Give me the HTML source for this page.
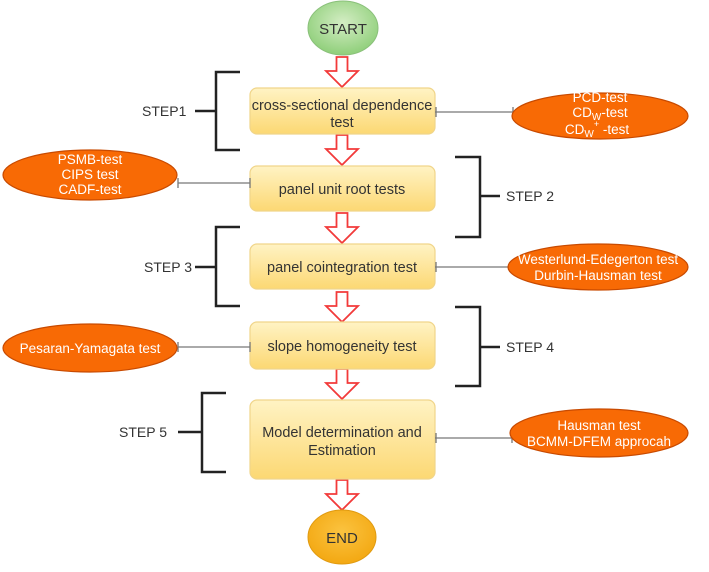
<!DOCTYPE html>
<html><head><meta charset="utf-8"><style>
html,body{margin:0;padding:0;background:#fff}
svg text{font-family:"Liberation Sans",sans-serif}
</style></head><body>
<svg width="709" height="567" viewBox="0 0 709 567" xmlns="http://www.w3.org/2000/svg">
<defs>
<radialGradient id="g" cx="50%" cy="40%" r="60%"><stop offset="0" stop-color="#d4edc4"/><stop offset="1" stop-color="#8fcf7a"/></radialGradient>
<linearGradient id="y" x1="0" y1="0" x2="0" y2="1"><stop offset="0" stop-color="#fff3c4"/><stop offset="1" stop-color="#fcd873"/></linearGradient>
<radialGradient id="o" cx="50%" cy="40%" r="60%"><stop offset="0" stop-color="#fbc340"/><stop offset="1" stop-color="#f3a812"/></radialGradient>
<g id="arr"><path d="M-5.5 0 H5.5 V14 H16 L0 30 L-16 14 H-5.5 Z" fill="#fff" stroke="#f23a3a" stroke-width="1.8"/></g>
</defs>
<ellipse cx="343" cy="28" rx="35" ry="27" fill="url(#g)" stroke="#8ac07a"/>
<text x="343" y="34" font-size="15" text-anchor="middle" fill="#333">START</text>
<use href="#arr" x="342" y="57"/>
<use href="#arr" x="342" y="135"/>
<use href="#arr" x="342" y="213"/>
<use href="#arr" x="342" y="292"/>
<use href="#arr" x="342" y="369"/>
<use href="#arr" x="342" y="480"/>
<g fill="url(#y)" stroke="#f0d58a" stroke-width="1.2">
<rect x="250" y="88" width="185" height="46" rx="7"/>
<rect x="250" y="166" width="185" height="45" rx="7"/>
<rect x="250" y="244" width="185" height="45" rx="7"/>
<rect x="250" y="322" width="185" height="47" rx="7"/>
<rect x="250" y="400" width="185" height="79" rx="7"/>
</g>
<g font-size="14.5" fill="#333" text-anchor="middle">
<text x="342" y="110">cross-sectional dependence</text>
<text x="342" y="127">test</text>
<text x="342" y="194">panel unit root tests</text>
<text x="342" y="272">panel cointegration test</text>
<text x="342" y="351">slope homogeneity test</text>
<text x="342" y="437">Model determination and</text>
<text x="342" y="455">Estimation</text>
</g>
<ellipse cx="342" cy="537" rx="34" ry="27" fill="url(#o)" stroke="#e09a10"/>
<text x="342" y="543" font-size="15" text-anchor="middle" fill="#333">END</text>
<g fill="none" stroke="#222" stroke-width="2.5">
<path d="M240 72 H216 V150 H240 M216 111 H195"/>
<path d="M455 157 H480 V237 H455 M480 196 H500"/>
<path d="M240 227 H216 V306 H240 M216 267 H195"/>
<path d="M455 307 H480 V386 H455 M480 347 H500"/>
<path d="M226 393 H202 V472 H226 M202 432 H178"/>
</g>
<g font-size="14" fill="#333">
<text x="142" y="116">STEP1</text>
<text x="506" y="201">STEP 2</text>
<text x="144" y="272">STEP 3</text>
<text x="506" y="352">STEP 4</text>
<text x="119" y="437">STEP 5</text>
</g>
<g stroke="#777" stroke-width="1.3" fill="none">
<path d="M435 112 H513 M436 107 V117 M513 107 V117"/>
<path d="M178 183 H250 M178 178 V188 M250 178 V188"/>
<path d="M435 267 H510 M436 262 V272 M510 262 V272"/>
<path d="M178 347 H250 M178 342 V352 M250 342 V352"/>
<path d="M435 438 H512 M436 433 V443 M512 433 V443"/>
</g>
<g fill="#f86a05" stroke="#c84a00" stroke-width="1.2">
<ellipse cx="600" cy="116" rx="88" ry="23"/>
<ellipse cx="90" cy="175" rx="87" ry="25"/>
<ellipse cx="598" cy="267" rx="90" ry="23"/>
<ellipse cx="90" cy="348" rx="87" ry="24"/>
<ellipse cx="599" cy="433" rx="89" ry="24"/>
</g>
<g font-size="13.5" fill="#fff" text-anchor="middle">
<text x="600" y="102">PCD-test</text>
<text x="600" y="117">CD<tspan font-size="10" dy="3">W</tspan><tspan dy="-3">-test</tspan></text>
<text x="597" y="134">CD<tspan font-size="10" dy="3">W</tspan><tspan font-size="9" dy="-10">+</tspan><tspan dy="7"> -test</tspan></text>
<text x="90" y="164">PSMB-test</text>
<text x="90" y="179">CIPS test</text>
<text x="90" y="194">CADF-test</text>
<text x="598" y="264">Westerlund-Edegerton test</text>
<text x="598" y="280">Durbin-Hausman test</text>
<text x="90" y="353">Pesaran-Yamagata test</text>
<text x="599" y="430">Hausman test</text>
<text x="599" y="446">BCMM-DFEM approcah</text>
</g>
</svg>
</body></html>
